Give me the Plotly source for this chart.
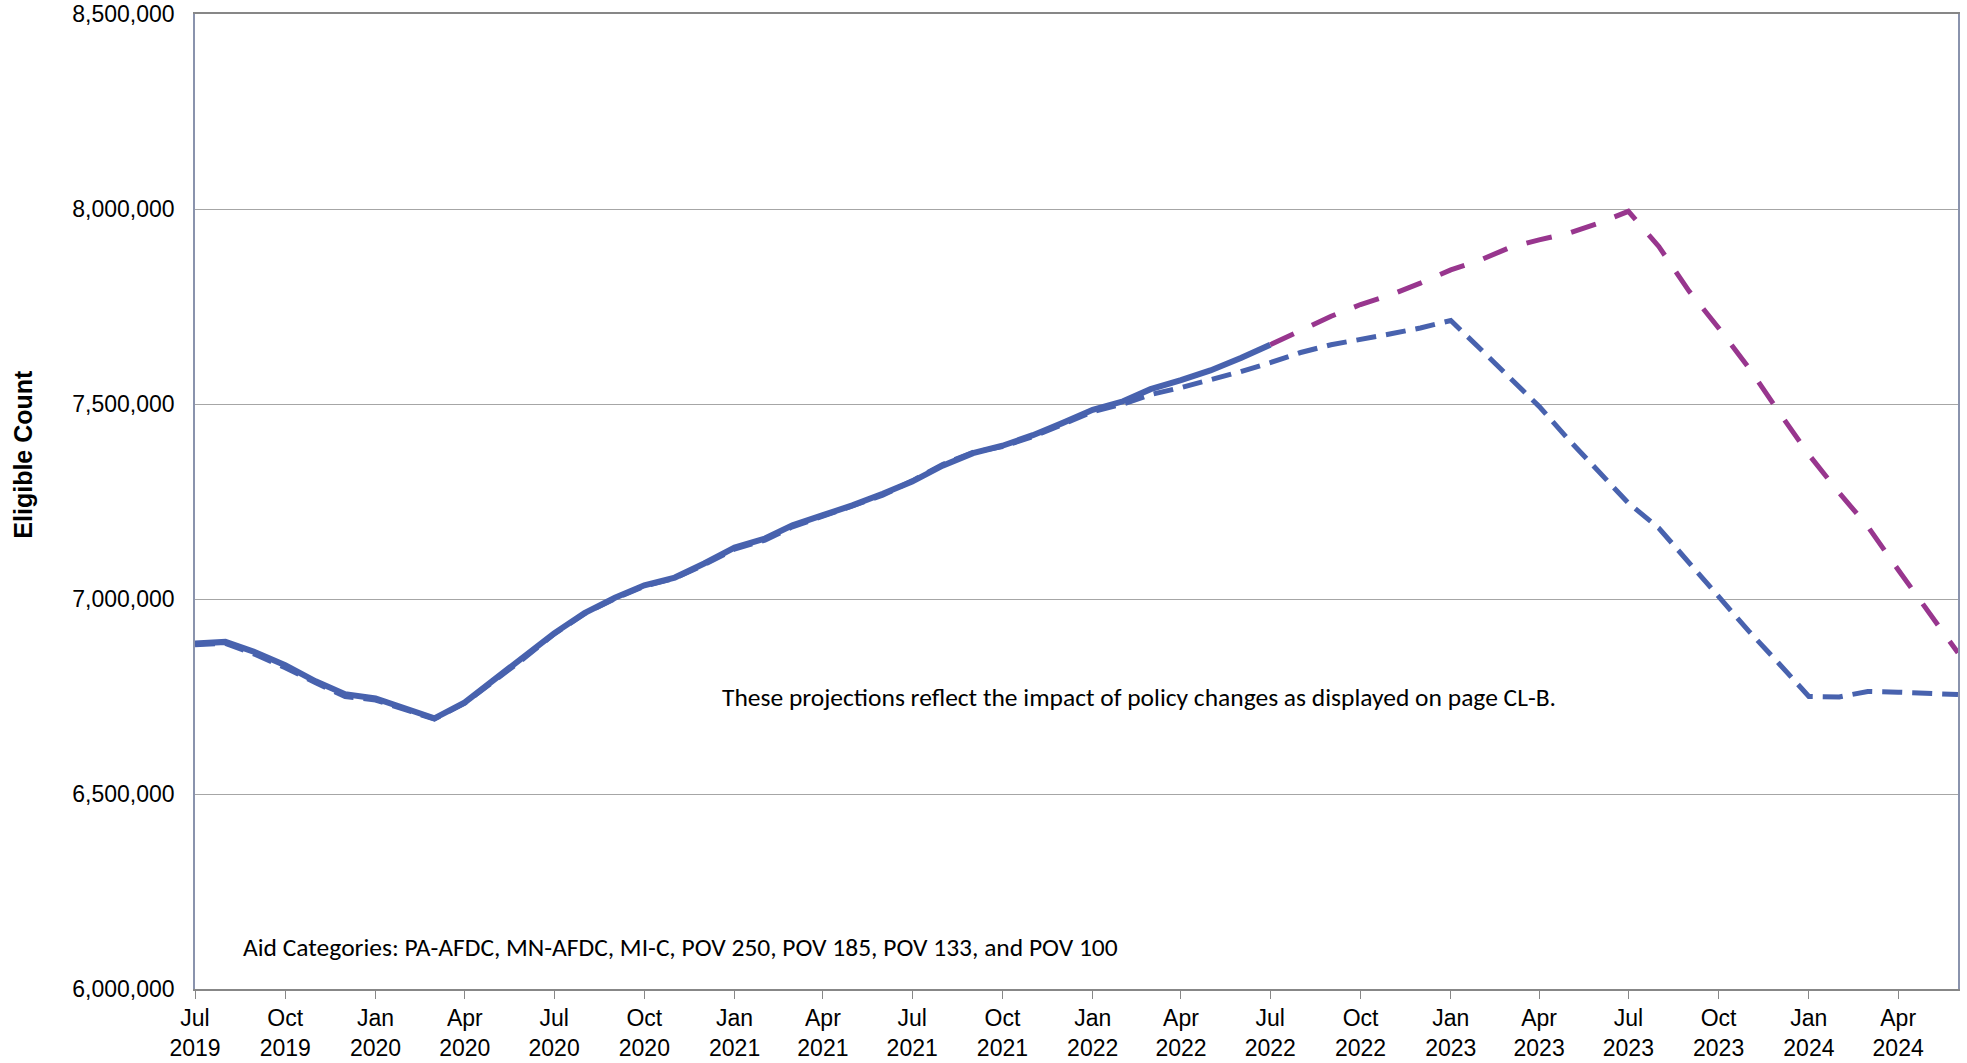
import pandas as pd
import plotly.graph_objects as go

# Monthly timeline, Jul 2019 - Jun 2024
months = pd.date_range("2019-07-01", "2024-06-01", freq="MS")

# Actual eligible counts, Jul 2019 - Jul 2022
actual = [
    6886000, 6890000, 6863000, 6830000, 6789000, 6756000, 6745000, 6720000,
    6694000, 6735000, 6792000, 6851000, 6912000, 6964000, 7003000, 7035000,
    7055000, 7091000, 7132000, 7155000, 7189000, 7215000, 7240000, 7270000,
    7301000, 7342000, 7374000, 7393000, 7420000, 7451000, 7485000, 7507000,
    7538000, 7561000, 7586000, 7618000, 7652000,
]

# Prior projection, Jul 2019 - Jun 2024
prior_projection = [
    6883000, 6886000, 6857000, 6824000, 6785000, 6750000, 6741000, 6716000,
    6692000, 6733000, 6790000, 6849000, 6910000, 6962000, 7001000, 7033000,
    7053000, 7088000, 7128000, 7151000, 7185000, 7212000, 7237000, 7266000,
    7303000, 7345000, 7376000, 7391000, 7416000, 7446000, 7480000, 7500000,
    7524000, 7542000, 7562000, 7583000, 7606000, 7632000, 7652000, 7665000,
    7680000, 7695000, 7714000, 7639000, 7571000, 7494000, 7409000, 7327000,
    7246000, 7182000, 7092000, 7003000, 6917000, 6836000, 6750000, 6749000,
    6763000, 6761000, 6757000, 6755000,
]

# Current projection, Jul 2022 - Jun 2024
current_projection = [
    7652000, 7688000, 7725000, 7755000, 7780000, 7810000, 7844000, 7870000,
    7900000, 7921000, 7938000, 7964000, 7994000, 7904000, 7789000, 7695000,
    7592000, 7481000, 7370000, 7272000, 7186000, 7075000, 6968000, 6862000,
]

tick_dates = pd.date_range("2019-07-01", "2024-04-01", freq="3MS")
tick_labels = [
    "Jul<br>2019", "Oct<br>2019", "Jan<br>2020", "Apr<br>2020",
    "Jul<br>2020", "Oct<br>2020", "Jan<br>2021", "Apr<br>2021",
    "Jul<br>2021", "Oct<br>2021", "Jan<br>2022", "Apr<br>2022",
    "Jul<br>2022", "Oct<br>2022", "Jan<br>2023", "Apr<br>2023",
    "Jul<br>2023", "Oct<br>2023", "Jan<br>2024", "Apr<br>2024",
]

BLUE = "#4862AE"
PURPLE = "#98368E"
AXIS_FONT = dict(family="Liberation Sans, Arial, sans-serif", size=23, color="#000000")
NOTE_FONT = dict(family="Carlito, Calibri, Lato, sans-serif", size=25.5, color="#000000")

fig = go.Figure()

fig.add_trace(go.Scatter(
    x=months, y=prior_projection, mode="lines",
    line=dict(color=BLUE, width=5, dash="20px,10px"),
    showlegend=False, hoverinfo="skip",
))
fig.add_trace(go.Scatter(
    x=months[:len(actual)], y=actual, mode="lines",
    line=dict(color=BLUE, width=6),
    showlegend=False,
))
fig.add_trace(go.Scatter(
    x=months[len(actual) - 1:], y=current_projection, mode="lines",
    line=dict(color=PURPLE, width=5, dash="26px,20px"),
    showlegend=False,
))

fig.update_layout(
    width=1967, height=1063,
    margin=dict(l=195, r=9, t=14, b=74),
    paper_bgcolor="white", plot_bgcolor="white",
    font=AXIS_FONT,
    annotations=[
        dict(text="Eligible Count", xref="paper", yref="paper",
             x=-0.0976, y=0.549, xanchor="center", yanchor="middle",
             textangle=-90, showarrow=False,
             font=dict(family="Liberation Sans, Arial, sans-serif", size=25,
                       color="#000000", weight="bold")),
        dict(text="These projections reflect the impact of policy changes as displayed on page CL-B.",
             xref="paper", yref="paper", x=0.5355, y=0.2985,
             xanchor="center", yanchor="middle", showarrow=False, font=NOTE_FONT),
        dict(text="Aid Categories: PA-AFDC, MN-AFDC, MI-C, POV 250, POV 185, POV 133, and POV 100",
             xref="paper", yref="paper", x=0.026, y=0.043,
             xanchor="left", yanchor="middle", showarrow=False, font=NOTE_FONT),
    ],
)

fig.update_xaxes(
    type="date", automargin=False,
    range=[months[0], months[-1]],
    tickvals=tick_dates, ticktext=tick_labels,
    ticks="outside", ticklen=8, tickwidth=1, tickcolor="#878787",
    showline=True, linecolor="#878787", linewidth=1.5, mirror=True,
    showgrid=False, zeroline=False,
    tickfont=AXIS_FONT,
)
fig.update_yaxes(
    automargin=False,
    range=[6000000, 8500000], dtick=500000, tick0=6000000,
    tickformat=",d",
    showgrid=True, gridcolor="#A6A6A6", gridwidth=1,
    showline=True, linecolor="#8A93AD", linewidth=1.5, mirror=True,
    ticks="", ticklabelstandoff=14,
    zeroline=False,
    tickfont=AXIS_FONT,
)

fig.write_html("out.html")
